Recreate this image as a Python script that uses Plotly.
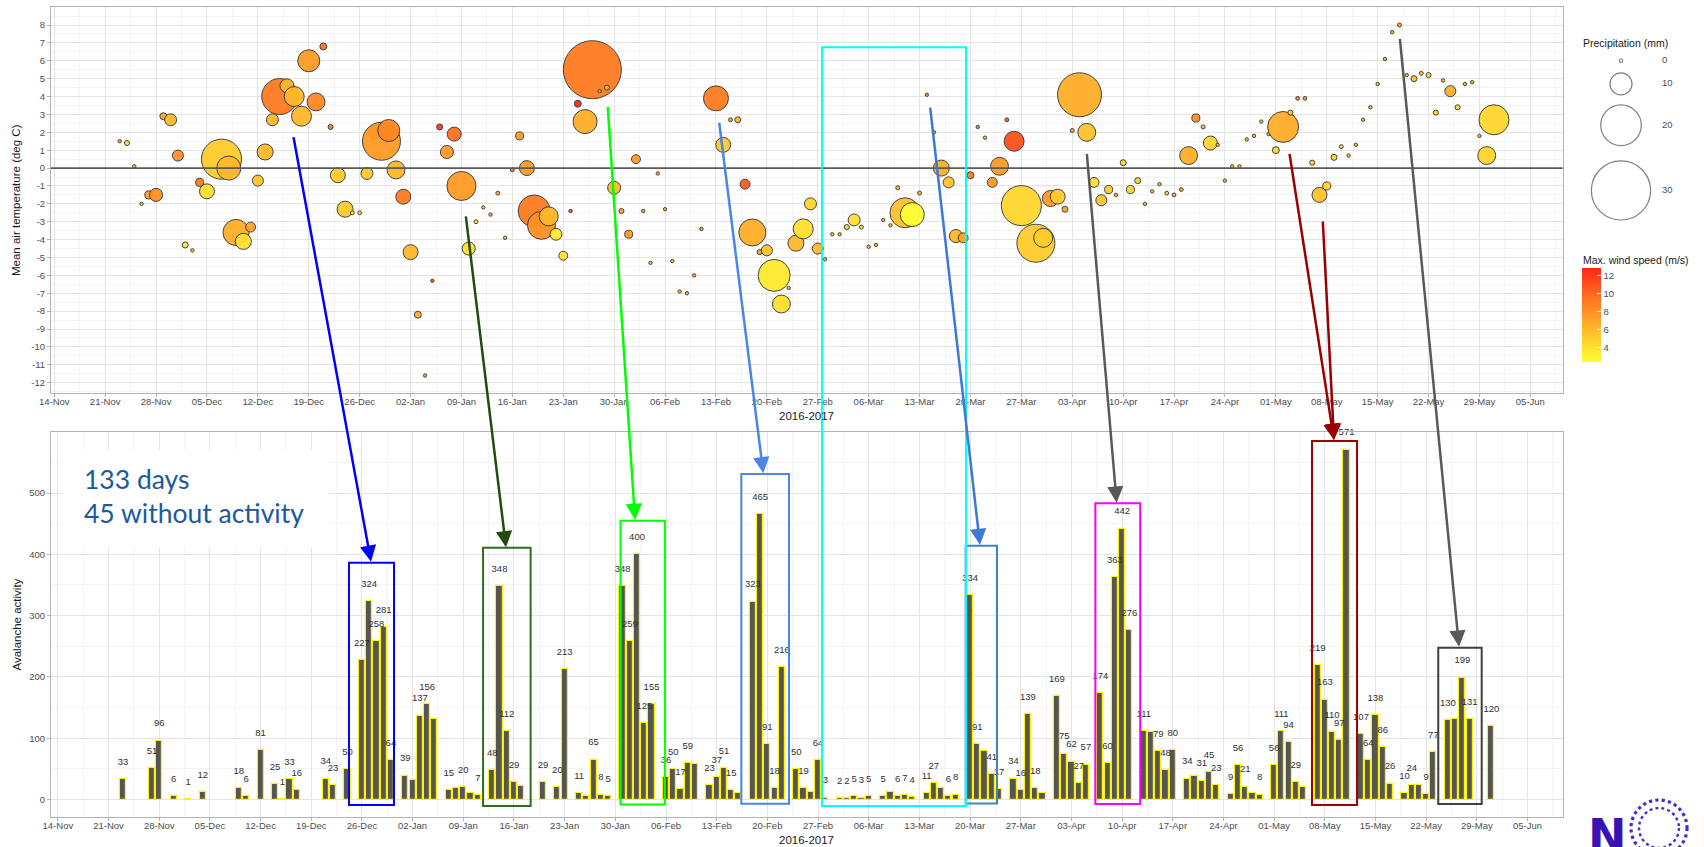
import pandas as pd
import plotly.graph_objects as go

W, H = 1704, 847
REF = pd.Timestamp("2016-11-14")   # first x tick
START = "2016-11-23"               # first day of the daily series below

# ---------------- daily weather (top panel), 23-Nov-2016 .. 31-May-2017 ----------------
temp_c = [
    1.5, 1.4, 0.1, -2.0, -1.5, -1.5, 2.9, 2.7, 0.7, -4.3,
    -4.6, -0.8, -1.3, None, 0.5, 0.0, -3.6, -4.1, -3.3, -0.7,
    0.9, 2.7, 4.0, 4.6, 4.0, 2.9, 6.0, 3.7, 6.8, 2.3,
    -0.4, -2.3, -2.5, -2.5, -0.3, 2.0, 1.5, 2.1, -0.1, -1.6,
    -4.7, -8.2, -11.6, -6.3, 2.3, 0.9, 1.9, -1.0, -4.5, -3.0,
    -2.2, -2.6, -1.4, -3.9, -0.1, 1.8, 0.0, -2.4, -3.2, -2.7,
    -3.7, -4.9, -2.4, 3.6, 2.6, 5.5, 4.3, 4.5, -1.1, -2.4,
    -3.7, 0.5, -2.4, -5.3, -0.3, -2.3, -5.2, -6.9, -7.0, -6.0,
    -3.4, None, 3.9, 1.3, 2.7, 2.7, -0.9, -3.6, -4.7, -4.6,
    -6.0, -7.6, -6.7, -4.2, -3.4, -2.0, -4.5, -5.1, -3.7, -3.7,
    -3.3, -2.9, -3.3, -4.4, -4.3, -2.9, -3.2, -1.1, -2.5, -2.6,
    -1.4, 4.1, 2.0, 0.0, -0.8, -3.8, -3.9, -0.4, 2.3, 1.7,
    -0.8, 0.1, 2.7, 1.5, -2.1, None, -4.2, -3.9, -1.7, -1.6,
    -2.3, 2.1, 4.1, 2.0, -0.8, -1.8, -1.2, -1.5, 0.3, -1.2,
    -0.7, -2.0, -1.3, -0.9, -1.4, -1.5, -1.2, 0.7, 2.8, 2.3,
    1.4, 1.3, -0.7, 0.1, 0.1, 1.6, 1.8, 2.6, 1.9, 1.0,
    2.3, 3.1, 3.9, 3.9, 0.3, -1.5, -1.0, 0.6, 1.2, 0.7,
    1.3, 2.7, 3.4, 4.7, 6.1, 7.6, 8.0, 5.2, 5.0, 5.3,
    5.2, 3.1, 4.9, 4.3, 3.4, 4.7, 4.8, 1.8, 0.7, 2.7,
]
precip_mm = [
    0, 0.9, 0, 0, 2.5, 5.2, 1.9, 4.6, 4.1, 1.4,
    0, 2.5, 6.2, None, 19.7, 11.1, 12.2, 6.8, 3.5, 4.1,
    6.8, 4.6, 17.5, 5.7, 8.9, 8.9, 10.0, 7.8, 1.9, 0.9,
    6.2, 6.8, 0.3, 0.2, 4.6, 5.2, 18.6, 10.0, 7.8, 6.2,
    6.2, 1.9, 0, 0, 1.4, 5.2, 5.7, 13.8, 5.2, 0.3,
    0, 0, 0.3, 0, 0.3, 2.5, 6.2, 15.4, 13.2, 8.4,
    4.6, 3.0, 0, 1.9, 11.1, 29.4, 0, 0.9, 5.2, 0.9,
    2.5, 3.0, 0, 0, 0, 0, 0, 0, 0, 0,
    0, None, 11.6, 6.2, 0.3, 1.4, 3.5, 12.7, 0.9, 4.1,
    15.4, 7.8, 0, 6.8, 8.9, 4.6, 4.1, 0, 0, 0,
    0.9, 4.6, 0.3, 0, 0, 0, 0, 0.3, 14.3, 11.1,
    0.3, 0, 0, 6.8, 4.1, 5.2, 3.5, 1.9, 0, 0,
    3.5, 7.8, 0.3, 8.9, 19.7, None, 18.6, 8.4, 6.8, 6.2,
    1.4, 0.3, 21.8, 7.8, 3.5, 4.1, 2.5, 0, 1.4, 2.5,
    1.4, 0, 0, 0, 0.2, 0.2, 0.2, 7.8, 2.5, 0.3,
    5.7, 0, 0, 0, 0, 0, 0, 0, 0, 1.9,
    14.8, 0.9, 0.2, 0.2, 0.9, 6.2, 2.5, 1.4, 0.3, 0,
    0, 0, 0, 0, 0, 0, 0.3, 0, 1.4, 0.3,
    0.9, 0.9, 0, 4.1, 0.9, 0, 0, 0, 7.8, 14.3,
]
wind_ms = [
    7, 4, 6, 6, 7, 8, 7, 6, 8, 3.5,
    6, 9, 4, None, 5, 6, 6.5, 4, 7, 5.5,
    6, 6, 9, 6, 6, 6, 7.5, 8.5, 9.5, 9,
    5, 5, 3.5, 4, 5, 10, 7.5, 8.5, 6, 9,
    6, 6.5, 7, 11, 12, 7.5, 9.5, 7.5, 4, 4,
    6, 7, 6.5, 6, 9, 7.5, 7.5, 9, 8, 6,
    3.5, 4, 11, 12.8, 6.5, 9, 7, 6.5, 6, 7,
    7.5, 7.5, 6.5, 6, 7, 6.5, 6, 6, 6.5, 7,
    7, None, 9, 5, 7, 6, 10.5, 6.5, 7, 5.5,
    3.5, 4, 6, 6, 4, 4.5, 6, 6, 6, 6,
    4.5, 4, 4, 6, 6, 6, 6, 6, 5.5, 2.3,
    6.5, 8, 6, 6.5, 5.5, 6, 7, 9, 9, 6,
    7.5, 7.5, 10.5, 11, 4.5, None, 5, 5, 7.5, 5,
    7, 7, 6.5, 5.5, 4, 5.5, 5, 6, 4.5, 4.5,
    4.5, 6, 6, 6, 5, 6, 7, 6.5, 8, 5.5,
    4.5, 6, 6, 6, 6, 6, 6, 6, 6, 4.5,
    6.5, 5, 9, 7.5, 4.5, 5.5, 4.5, 4.5, 4.5, 6,
    6, 6, 6, 6, 6, 6, 7, 6, 5.5, 5.5,
    4.5, 4.5, 6, 6.5, 4.5, 6, 6, 6, 4.5, 4.5,
]
# ---------------- daily avalanche activity (bottom panel), None = no activity ----------------
activity = [
    33, None, None, None, 51, 96, None, 6, None, 1,
    None, 12, None, None, None, None, 18, 6, None, 81,
    None, 25, 1, 33, 16, None, None, None, 34, 23,
    None, 50, None, 227, 324, 258, 281, 64, None, 39,
    32, 137, 156, 131, None, 15, 18, 20, 11, 7,
    None, 48, 348, 112, 29, 22, None, None, 29, None,
    20, 213, None, 11, 5, 65, 8, 5, None, 348,
    259, 400, 125, 155, None, 36, 50, 17, 59, 58,
    None, 23, 37, 51, 15, 10, None, 323, 465, 91,
    18, 216, None, 50, 19, 12, 64, 3, None, 2,
    2, 5, 3, 5, None, 5, 13, 6, 7, 4,
    None, 11, 27, 19, 6, 8, None, 334, 91, 79,
    41, 17, None, 34, 16, 139, 18, 11, None, 169,
    75, 62, 27, 57, None, 174, 60, 363, 442, 276,
    None, 111, 110, 79, 48, 80, None, 34, 38, 31,
    45, 23, None, 9, 56, 21, 10, 8, None, 56,
    111, 94, 29, 20, None, 219, 163, 110, 97, 571,
    None, 107, 64, 138, 86, 26, None, 10, 24, 24,
    9, 77, None, 130, 132, 199, 131, None, None, 120,
]
# labels dropped by overlap check in the original
hidden_labels = ["2017-01-02", "2017-01-05", "2017-01-08", "2017-01-10", "2017-01-17",
                 "2017-01-26", "2017-02-10", "2017-02-16", "2017-02-26", "2017-03-09",
                 "2017-03-16", "2017-03-22", "2017-03-30", "2017-04-14", "2017-04-20",
                 "2017-04-28", "2017-05-05", "2017-05-21", "2017-05-26"]

legend_precip = [0, 10, 20, 30]
wind_ticks = [4, 6, 8, 10, 12]
temp_ticks = list(range(-12, 9))
act_ticks = [0, 100, 200, 300, 400, 500]

dates = pd.date_range(START, periods=len(temp_c), freq="D")

# ---------------- geometry ----------------
FONT = "Liberation Sans"
TOP = dict(x0=51, x1=1562.7, y0=7.3, y1=392.7)
BOT = dict(x0=51, x1=1563, y0=432, y1=817)
TOP_XR = (-0.45, 207.45)   # days since REF
BOT_XR = (-0.95, 207.9)
TOP_YR = (-12.56, 8.99)
BOT_YR = (-28.55, 599.55)
DAY_MS = 86400000


def dstr(d):
    return (REF + pd.Timedelta(days=d)).strftime("%Y-%m-%d %H:%M:%S")


def to_px(panel, xr, yr, d, v):
    x = panel["x0"] + (d - xr[0]) / (xr[1] - xr[0]) * (panel["x1"] - panel["x0"])
    y = panel["y0"] + (yr[1] - v) / (yr[1] - yr[0]) * (panel["y1"] - panel["y0"])
    return x, y


def bubble_size(p):
    return 3.4 + 1.86 * p


COLORSCALE = [[0, "#FFFF33"], [0.2, "#FFD82E"], [0.45, "#FFA326"], [0.7, "#FF6E1F"], [1, "#FF261A"]]
CMIN, CMAX = 2.31, 12.82

fig = go.Figure()

# ---------------- top: bubbles ----------------
bx, by, bs, bc = [], [], [], []
for d, t, p, w in zip(dates, temp_c, precip_mm, wind_ms):
    if t is None:
        continue
    bx.append(d); by.append(t); bs.append(bubble_size(p)); bc.append(w)

fig.add_trace(go.Scatter(
    x=bx, y=by, mode="markers", xaxis="x", yaxis="y", showlegend=False,
    marker=dict(size=bs, sizemode="diameter", color=bc, colorscale=COLORSCALE,
                cmin=CMIN, cmax=CMAX, opacity=0.95,
                line=dict(color="#3a3a3a", width=1),
                colorbar=dict(x=1582.3 / W, xanchor="left", y=1 - 315.5 / H, yanchor="middle",
                              len=93.6 / H, lenmode="fraction", thickness=18.5,
                              thicknessmode="pixels", outlinewidth=0, xpad=0, ypad=0,
                              tickvals=wind_ticks, ticks="inside", ticklen=4,
                              tickcolor="white", tickwidth=1,
                              tickfont=dict(family=FONT, size=9.5, color="#4D4D4D"))),
))

# ---------------- bottom: bars + labels ----------------
ax_, ay_ = [], []
for d, v in zip(dates, activity):
    if v is None:
        continue
    ax_.append(d); ay_.append(v)

fig.add_trace(go.Bar(
    x=ax_, y=ay_, xaxis="x2", yaxis="y2", width=0.85 * DAY_MS, showlegend=False,
    marker=dict(color="#555555", line=dict(color="#FFF200", width=1.2)),
))
hidden = set(pd.to_datetime(hidden_labels))
lx = [d for d in ax_ if d not in hidden]
lv = [v for d, v in zip(ax_, ay_) if d not in hidden]
fig.add_trace(go.Scatter(
    x=lx, y=[v + 27 for v in lv], text=[str(v) for v in lv], mode="text",
    xaxis="x2", yaxis="y2", showlegend=False, cliponaxis=False,
    textfont=dict(family=FONT, size=9.5, color="#303030"),
))

# ---------------- size legend (own pixel axes) ----------------
LEG_X = 1621
leg_d = [bubble_size(v) + 1 for v in legend_precip]
keys = [max(17, 1.28 * d) for d in leg_d]
centers = []
c = 52.2 + keys[0] / 2
for i, k in enumerate(keys):
    if i > 0:
        c += (keys[i - 1] + k) / 2
    centers.append(c)
fig.add_trace(go.Scatter(
    x=[LEG_X] * len(legend_precip), y=centers, mode="markers", xaxis="x3", yaxis="y3",
    showlegend=False,
    marker=dict(size=[bubble_size(v) for v in legend_precip], sizemode="diameter",
                color="white", line=dict(color="#4a4a4a", width=1.2)),
))
fig.add_trace(go.Scatter(
    x=[1662] * len(legend_precip), y=centers, mode="text", text=[str(v) for v in legend_precip],
    textposition="middle right", xaxis="x3", yaxis="y3", showlegend=False,
    textfont=dict(family=FONT, size=9.5, color="#4D4D4D"),
))

# ---------------- axes ----------------
grid = "#E4E4E4"
mgrid = "#F3F3F3"
tickfont = dict(family=FONT, size=9.5, color="#4D4D4D")
common_x = dict(type="date", tick0="2016-11-14", dtick=7 * DAY_MS, tickformat="%d-%b",
                ticks="outside", ticklen=3, tickcolor="#B3B3B3", tickwidth=1,
                ticklabelstandoff=-3, automargin=False,
                showgrid=True, gridcolor=grid, gridwidth=1, zeroline=False,
                showline=True, mirror=True, linecolor="#B3B3B3", linewidth=1,
                tickfont=tickfont,
                minor=dict(dtick=3.5 * DAY_MS, tick0="2016-11-14", showgrid=True,
                           gridcolor=mgrid, gridwidth=0.8, ticks=""))
common_y = dict(ticks="outside", ticklen=3, tickcolor="#B3B3B3", tickwidth=1,
                automargin=False,
                showgrid=True, gridcolor=grid, gridwidth=1, zeroline=False,
                showline=True, mirror=True, linecolor="#B3B3B3", linewidth=1,
                tickfont=tickfont)

fig.update_layout(
    width=W, height=H, margin=dict(l=0, r=0, t=0, b=0, autoexpand=False),
    paper_bgcolor="white", plot_bgcolor="white", showlegend=False,
    font=dict(family=FONT),
    bargap=0,
    xaxis=dict(common_x, domain=[TOP["x0"] / W, TOP["x1"] / W], anchor="y",
               range=[dstr(TOP_XR[0]), dstr(TOP_XR[1])]),
    yaxis=dict(common_y, domain=[1 - TOP["y1"] / H, 1 - TOP["y0"] / H], anchor="x",
               range=list(TOP_YR), tickvals=temp_ticks, ticktext=[str(v) for v in temp_ticks],
               minor=dict(dtick=0.5, tick0=0, showgrid=True, gridcolor=mgrid, gridwidth=0.8, ticks="")),
    xaxis2=dict(common_x, domain=[BOT["x0"] / W, BOT["x1"] / W], anchor="y2",
                range=[dstr(BOT_XR[0]), dstr(BOT_XR[1])]),
    yaxis2=dict(common_y, domain=[1 - BOT["y1"] / H, 1 - BOT["y0"] / H], anchor="x2",
                range=list(BOT_YR), tickvals=act_ticks, ticktext=[str(v) for v in act_ticks],
                minor=dict(dtick=50, tick0=0, showgrid=True, gridcolor=mgrid, gridwidth=0.8, ticks="")),
    xaxis3=dict(domain=[1565 / W, 1], range=[1565, 1704], visible=False, anchor="y3",
                fixedrange=True, automargin=False),
    yaxis3=dict(domain=[1 - 250 / H, 1 - 30 / H], range=[250, 30], visible=False, anchor="x3",
                fixedrange=True, automargin=False),
)

shapes = []
ann = []

# zero line on the temperature panel
shapes.append(dict(type="line", xref="x domain", yref="y", x0=0, x1=1, y0=0, y1=0,
                   line=dict(color="#5a5a5a", width=1.8), layer="above"))

# axis titles
title_font = dict(family=FONT, size=11.5, color="#1a1a1a")
ann.append(dict(text="Mean air temperature (deg C)", xref="paper", yref="paper",
                x=16 / W, y=1 - (TOP["y0"] + TOP["y1"]) / 2 / H, textangle=-90,
                xanchor="center", yanchor="middle", showarrow=False, font=title_font))
ann.append(dict(text="Avalanche activity", xref="paper", yref="paper",
                x=16 / W, y=1 - (BOT["y0"] + BOT["y1"]) / 2 / H, textangle=-90,
                xanchor="center", yanchor="middle", showarrow=False, font=title_font))
for yy in (416, 840):
    ann.append(dict(text="2016-2017", xref="paper", yref="paper",
                    x=(TOP["x0"] + TOP["x1"]) / 2 / W, y=1 - yy / H,
                    xanchor="center", yanchor="middle", showarrow=False, font=title_font))

# legend titles
ann.append(dict(text="Precipitation (mm)", xref="paper", yref="paper", x=1581 / W, y=1 - 42.7 / H,
                xanchor="left", yanchor="middle", showarrow=False,
                font=dict(family=FONT, size=10.5, color="#1a1a1a")))
ann.append(dict(text="Max. wind speed (m/s)", xref="paper", yref="paper", x=1581 / W, y=1 - 260 / H,
                xanchor="left", yanchor="middle", showarrow=False,
                font=dict(family=FONT, size=10.5, color="#1a1a1a")))

# info text with white background
shapes.append(dict(type="rect", xref="x2", yref="y2", x0=dstr(0.71), x1=dstr(37.3),
                   y0=411.9, y1=570.2, fillcolor="white", line=dict(width=0), layer="above"))
ann.append(dict(text="133 days", xref="paper", yref="paper", x=82 / W, y=1 - 479 / H,
                xanchor="left", yanchor="middle", showarrow=False,
                font=dict(family="Lato", size=26.5, color="#1C5A9C")))
ann.append(dict(text="45 without activity", xref="paper", yref="paper", x=82 / W, y=1 - 513 / H,
                xanchor="left", yanchor="middle", showarrow=False,
                font=dict(family="Lato", size=26.5, color="#1C5A9C")))

# highlighted periods (bottom panel): colour, start day, end day, top value, bottom value
boxes = [
    ("#0000FF", 40.21, 46.43, 386.3, -8.9),
    ("#2E6E1E", 58.73, 65.30, 410.8, -10.5),
    ("#00FF00", 77.72, 83.84, 454.8, -8.1),
    ("#4A86E8", 94.40, 100.99, 531.0, -6.8),
    ("#3D85C6", 125.39, 129.72, 414.1, -6.5),
    ("#FF00FF", 143.30, 149.50, 483.2, -7.3),
    ("#A00000", 173.23, 179.45, 584.9, -9.0),
    ("#404040", 190.67, 196.67, 247.6, -7.3),
]
for col, d0, d1, v1, v0 in boxes:
    shapes.append(dict(type="rect", xref="x2", yref="y2", x0=dstr(d0), x1=dstr(d1),
                       y0=v0, y1=v1, line=dict(color=col, width=2), layer="above"))

# quiet period spanning both panels
cx0, _ = to_px(BOT, BOT_XR, BOT_YR, 105.55, 0)
cx1, cyb = to_px(BOT, BOT_XR, BOT_YR, 125.44, -10.7)
_, cyt = to_px(TOP, TOP_XR, TOP_YR, 0, 6.75)
shapes.append(dict(type="rect", xref="paper", yref="paper", x0=cx0 / W, x1=cx1 / W,
                   y0=1 - cyb / H, y1=1 - cyt / H, line=dict(color="#00FFFF", width=2), layer="above"))

# arrows: colour, tail (day, temperature) on top panel, head (day, activity) on bottom panel
arrows = [
    ("#0000FF", (32.87, 1.81), (43.25, 387.9)),
    ("#1E4D0F", (56.58, -2.62), (61.90, 411.4)),
    ("#00FF00", (76.11, 3.51), (79.72, 456.0)),
    ("#4A86E8", (91.42, 2.62), (97.44, 532.2)),
    ("#3C78D8", (120.44, 3.47), (127.37, 415.2)),
    ("#595959", (141.99, 0.88), (146.25, 484.2)),
    ("#990000", (169.85, 0.88), (176.27, 586.5)),
    ("#990000", (174.45, -2.90), (176.27, 586.5)),
    ("#595959", (185.04, 7.31), (193.54, 249.2)),
]
for col, (td, tv), (hd, hv) in arrows:
    hx, hy = to_px(BOT, BOT_XR, BOT_YR, hd, hv)
    tx, ty = to_px(TOP, TOP_XR, TOP_YR, td, tv)
    ann.append(dict(x=hx / W, y=1 - hy / H, xref="paper", yref="paper",
                    ax=tx - hx, ay=ty - hy, axref="pixel", ayref="pixel",
                    text="", showarrow=True, arrowhead=2, arrowsize=1.3,
                    arrowwidth=2.5, arrowcolor=col, standoff=0))

# logo fragment bottom-right
LOGO = "#3A12B2"
ann.append(dict(text="<b>N</b>", xref="paper", yref="paper", x=1607 / W, y=1 - 836 / H,
                xanchor="center", yanchor="middle", showarrow=False,
                font=dict(family="DejaVu Sans", size=46, color=LOGO)))
ann.append(dict(text="<b>R</b>", xref="paper", yref="paper", x=1698 / W, y=1 - 836 / H,
                xanchor="left", yanchor="middle", showarrow=False,
                font=dict(family="DejaVu Sans", size=46, color=LOGO)))
for r, wdt in ((28, 3.2), (20, 2.4)):
    shapes.append(dict(type="circle", xref="paper", yref="paper",
                       x0=(1659 - r) / W, x1=(1659 + r) / W, y0=1 - (828 + r) / H, y1=1 - (828 - r) / H,
                       line=dict(color="#4B2CC4", width=wdt, dash="dot")))

fig.update_layout(shapes=shapes, annotations=ann)

fig.write_html("out.html", include_plotlyjs=True, config={"displayModeBar": False},
               post_script="document.body.style.margin='0';document.body.style.overflow='hidden';")
